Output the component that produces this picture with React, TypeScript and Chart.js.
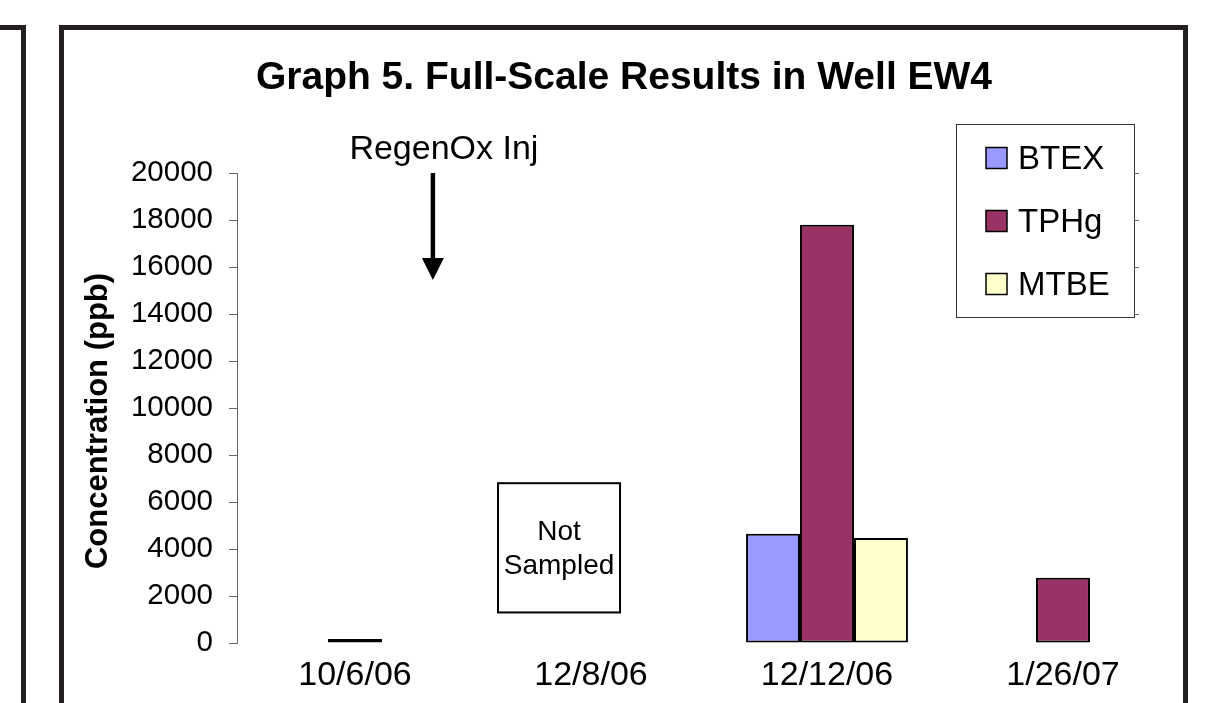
import React, { useEffect, useRef } from 'react';
import { Chart, registerables } from 'chart.js';

Chart.register(...registerables);

// ---------- data ----------
const categories = ['10/6/06', '12/8/06', '12/12/06', '1/26/07'];
const seriesNames = ['BTEX', 'TPHg', 'MTBE'];
const btexValues = [null, null, 4650, null];
const tphgValues = [170, null, 17800, 2780];
const mtbeValues = [null, null, 4470, null];
const seriesColors = ['#9999FF', '#993366', '#FFFFCC'];
const yMin = 0;
const yMax = 20000;
const yStep = 2000;

const chartTitle = 'Graph 5. Full-Scale Results in Well EW4';
const yAxisTitle = 'Concentration (ppb)';

// annotation anchors (in data space: category index / ppb)
const injectionLabel = 'RegenOx Inj';
const injectionX = 0.33;
const injectionFrom = 20000;
const injectionTo = 15450;
const notSampledLines = ['Not', 'Sampled'];
const notSampledX = [0.606, 1.123];
const notSampledY = [1300, 6800];

// ---------- styling ----------
const FONT = '"Liberation Sans", Arial, Helvetica, sans-serif';
const LEGEND_BOX = { left: 956, top: 124, width: 178, height: 193 };

const overlayPlugin = {
  id: 'overlay',
  afterDraw(chart: any) {
    const { ctx, scales, chartArea } = chart;
    const x = scales.x;
    const y = scales.y;
    ctx.save();

    // Y axis title
    ctx.save();
    ctx.translate(y.left + 31, (chartArea.top + chartArea.bottom) / 2 + 13);
    ctx.rotate(-Math.PI / 2);
    ctx.fillStyle = '#000';
    ctx.font = `bold 31px ${FONT}`;
    ctx.textAlign = 'center';
    ctx.textBaseline = 'middle';
    ctx.fillText(yAxisTitle, 0, 0);
    ctx.restore();

    // Injection arrow
    const ax = x.getPixelForValue(injectionX);
    const ay0 = y.getPixelForValue(injectionFrom);
    const ay1 = y.getPixelForValue(injectionTo);
    ctx.strokeStyle = '#000';
    ctx.fillStyle = '#000';
    ctx.lineWidth = 4.5;
    ctx.beginPath();
    ctx.moveTo(ax, ay0);
    ctx.lineTo(ax, ay1 - 18);
    ctx.stroke();
    ctx.beginPath();
    ctx.moveTo(ax - 11, ay1 - 22);
    ctx.lineTo(ax + 11, ay1 - 22);
    ctx.lineTo(ax, ay1);
    ctx.closePath();
    ctx.fill();
    ctx.font = `34px ${FONT}`;
    ctx.textAlign = 'center';
    ctx.textBaseline = 'middle';
    ctx.fillText(injectionLabel, ax + 11, ay0 - 23);

    // Not sampled box
    const bx0 = x.getPixelForValue(notSampledX[0]);
    const bx1 = x.getPixelForValue(notSampledX[1]);
    const by0 = y.getPixelForValue(notSampledY[1]);
    const by1 = y.getPixelForValue(notSampledY[0]);
    ctx.fillStyle = '#fff';
    ctx.fillRect(bx0, by0, bx1 - bx0, by1 - by0);
    ctx.strokeStyle = '#000';
    ctx.lineWidth = 2;
    ctx.strokeRect(bx0, by0, bx1 - bx0, by1 - by0);
    ctx.fillStyle = '#000';
    ctx.font = `28px ${FONT}`;
    const bcx = (bx0 + bx1) / 2;
    const bcy = (by0 + by1) / 2;
    ctx.fillText(notSampledLines[0], bcx, bcy - 16);
    ctx.fillText(notSampledLines[1], bcx, bcy + 18);

    // Legend
    const L = LEGEND_BOX;
    ctx.fillStyle = '#fff';
    ctx.fillRect(L.left, L.top, L.width, L.height);
    ctx.strokeStyle = '#333';
    ctx.lineWidth = 1;
    ctx.strokeRect(L.left + 0.5, L.top + 0.5, L.width, L.height);
    // small tick marks peeking out at the legend's right edge
    ctx.strokeStyle = '#666';
    (y.ticks || []).forEach((t: any) => {
      const py = Math.round(y.getPixelForValue(t.value)) + 0.5;
      if (py >= L.top && py <= L.top + L.height) {
        ctx.beginPath();
        ctx.moveTo(L.left + L.width, py);
        ctx.lineTo(L.left + L.width + 5, py);
        ctx.stroke();
      }
    });
    ctx.font = `33px ${FONT}`;
    ctx.textAlign = 'left';
    ctx.textBaseline = 'middle';
    chart.data.datasets.forEach((ds: any, i: number) => {
      const cy = L.top + 34 + i * 63;
      ctx.fillStyle = ds.backgroundColor;
      ctx.fillRect(L.left + 30, cy - 10.5, 21, 21);
      ctx.strokeStyle = '#000';
      ctx.lineWidth = 1.5;
      ctx.strokeRect(L.left + 30, cy - 10.5, 21, 21);
      ctx.fillStyle = '#000';
      ctx.fillText(ds.label, L.left + 62, cy + 2);
    });

    ctx.restore();
  },
};

export default function App() {
  const canvasRef = useRef<HTMLCanvasElement | null>(null);

  useEffect(() => {
    const canvas = canvasRef.current;
    if (!canvas) return;
    const seriesValues = [btexValues, tphgValues, mtbeValues];
    const chart = new Chart(canvas, {
      type: 'bar',
      data: {
        labels: categories,
        datasets: seriesNames.map((name, i) => ({
          label: name,
          data: seriesValues[i] as any,
          backgroundColor: seriesColors[i],
          borderColor: '#000',
          borderWidth: 2,
          borderSkipped: false,
          barPercentage: 1,
          categoryPercentage: 0.686,
        })),
      },
      options: {
        responsive: false,
        animation: false,
        devicePixelRatio: 1,
        layout: { padding: { left: 67, right: 43, top: 30, bottom: 0 } },
        plugins: {
          legend: { display: false },
          tooltip: { enabled: false },
          title: {
            display: true,
            text: chartTitle,
            color: '#000',
            font: { family: FONT, size: 39, weight: 'bold' },
            padding: { top: 25, bottom: 71.2 },
          },
        },
        scales: {
          x: {
            type: 'category',
            offset: true,
            grid: { display: false },
            border: { display: false },
            ticks: {
              color: '#000',
              font: { family: FONT, size: 34 },
              padding: 4,
              maxRotation: 0,
              autoSkip: false,
            },
            afterFit: (scale: any) => {
              scale.height = 60;
            },
          },
          y: {
            min: yMin,
            max: yMax,
            grid: {
              display: true,
              drawOnChartArea: false,
              drawTicks: true,
              tickLength: 8,
              color: '#666',
              lineWidth: 1,
            },
            border: { display: true, color: '#666', width: 1 },
            ticks: {
              stepSize: yStep,
              color: '#000',
              font: { family: FONT, size: 29.5 },
              padding: 16,
              callback: (v: any) => String(v),
            },
            title: { display: false },
            afterFit: (scale: any) => {
              scale.width = 170;
            },
          },
        },
      },
      plugins: [overlayPlugin],
    });
    return () => chart.destroy();
  }, []);

  return (
    <div
      style={{
        position: 'absolute',
        left: 0,
        top: 0,
        width: 1224,
        height: 703,
        overflow: 'hidden',
        background: '#fff',
      }}
    >
      <div
        style={{
          position: 'absolute',
          left: -20,
          top: 25,
          width: 46,
          height: 800,
          border: '5px solid #231F20',
          boxSizing: 'border-box',
        }}
      />
      <div
        style={{
          position: 'absolute',
          left: 59,
          top: 25,
          width: 1129,
          height: 800,
          border: '5px solid #231F20',
          boxSizing: 'border-box',
        }}
      />
      <canvas
        ref={canvasRef}
        width={1224}
        height={703}
        style={{ position: 'absolute', left: 0, top: 0 }}
      />
    </div>
  );
}
